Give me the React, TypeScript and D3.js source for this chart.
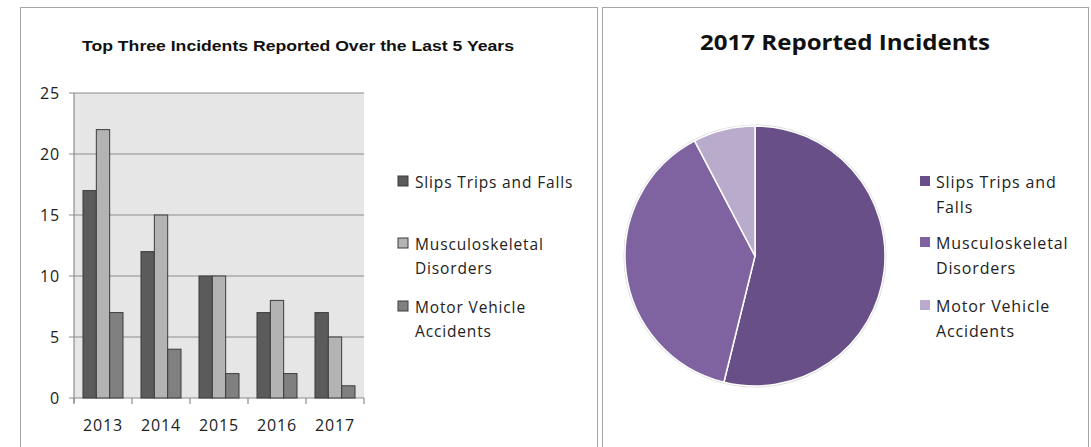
import React from 'react'
import * as d3 from 'd3'

const years = ['2013', '2014', '2015', '2016', '2017']
const seriesNames = ['Slips Trips and Falls', 'Musculoskeletal Disorders', 'Motor Vehicle Accidents']
const slips = [17, 12, 10, 7, 7]
const musculo = [22, 15, 10, 8, 5]
const motor = [7, 4, 2, 2, 1]
const yTicks = [0, 5, 10, 15, 20, 25]
const pieLabels = ['Slips Trips and Falls', 'Musculoskeletal Disorders', 'Motor Vehicle Accidents']
const pieValues = [7, 5, 1]

const barColors = ['#5b5b5b', '#b3b3b3', '#808080']
const pieColors = ['#684f88', '#7f62a0', '#b8abcb']

const legendLinesLeft = [['Slips Trips and Falls'], ['Musculoskeletal', 'Disorders'], ['Motor Vehicle', 'Accidents']]
const legendLinesRight = [['Slips Trips and', 'Falls'], ['Musculoskeletal', 'Disorders'], ['Motor Vehicle', 'Accidents']]

const font = "'Open Sans', sans-serif"

const BarChart = () => {
  const left = 74, right = 364, top = 93, bottom = 398
  const x0 = d3.scaleBand().domain(years).range([left, right]).paddingInner(0.31).paddingOuter(0.155)
  const x1 = d3.scaleBand().domain(seriesNames).range([0, x0.bandwidth()])
  const y = d3.scaleLinear().domain([0, 25]).range([bottom, top])
  const rows = years.map((yr, i) => ({ yr, vals: [slips[i], musculo[i], motor[i]] }))
  const step = x0.step()

  return (
    <g>
      <rect x={20.5} y={7.5} width={577} height={460} fill='#fff' stroke='#a6a6a6' />
      <text x={298} y={51} textAnchor='middle' fontFamily="'Liberation Sans Narrow', 'Liberation Sans', sans-serif"
        fontWeight='bold' fontSize={15} textLength={432} lengthAdjust='spacingAndGlyphs' fill='#111'>
        Top Three Incidents Reported Over the Last 5 Years
      </text>
      <rect x={left} y={top} width={right - left} height={bottom - top} fill='#e6e6e6' />
      {yTicks.map(t => (
        <g key={t}>
          <line x1={left - 5} x2={right} y1={y(t)} y2={y(t)} stroke='#8c8c8c' strokeWidth={1.2} />
          <text x={60} y={y(t) + 6} textAnchor='end' fontFamily={font} fontSize={16} letterSpacing={0.8} fill='#222'>{t}</text>
        </g>
      ))}
      <line x1={left} x2={left} y1={top} y2={bottom + 5} stroke='#8c8c8c' strokeWidth={1.2} />
      {d3.range(years.length + 1).map(i => (
        <line key={i} x1={left + i * step} x2={left + i * step} y1={bottom} y2={bottom + 6} stroke='#8c8c8c' strokeWidth={1.2} />
      ))}
      {rows.map(r => (
        <g key={r.yr} transform={`translate(${x0(r.yr)},0)`}>
          {r.vals.map((v, j) => (
            <rect key={j} x={x1(seriesNames[j])} y={y(v)} width={x1.bandwidth()} height={bottom - y(v)}
              fill={barColors[j]} stroke='#3c3c3c' strokeWidth={1} />
          ))}
          <text x={x0.bandwidth() / 2} y={431} textAnchor='middle' fontFamily={font} fontSize={16} letterSpacing={0.8} fill='#222'>{r.yr}</text>
        </g>
      ))}
      {legendLinesLeft.map((lines, i) => {
        const ly = [187, 249, 312][i]
        return (
          <g key={i}>
            <rect x={398} y={ly - 11} width={10} height={10} fill={barColors[i]} stroke='#3c3c3c' />
            {lines.map((ln, k) => (
              <text key={k} x={415} y={ly + 1 + k * 24} fontFamily={font} fontSize={15.5} letterSpacing={0.85} fill='#222'>{ln}</text>
            ))}
          </g>
        )
      })}
    </g>
  )
}

const PieChart = () => {
  const cx = 755, cy = 256, r = 130
  const pie = d3.pie<number>().sort(null)(pieValues)
  const arc = d3.arc<d3.PieArcDatum<number>>().innerRadius(0).outerRadius(r)
  return (
    <g>
      <rect x={602.5} y={7.5} width={486} height={460} fill='#fff' stroke='#a6a6a6' />
      <text x={845} y={50} textAnchor='middle' fontFamily={font} fontWeight='bold' fontSize={22}
        textLength={290} lengthAdjust='spacingAndGlyphs' fill='#111'>2017 Reported Incidents</text>
      <g transform={`translate(${cx},${cy})`}>
        <circle r={r + 1.5} fill='#d9d9d9' />
        {pie.map((d, i) => (
          <path key={i} d={arc(d) || ''} fill={pieColors[i]} stroke='#fff' strokeWidth={1.5} />
        ))}
      </g>
      {legendLinesRight.map((lines, i) => {
        const ly = [187, 248, 311][i]
        return (
          <g key={i}>
            <rect x={920} y={ly - 11} width={10} height={10} fill={pieColors[i]} />
            {lines.map((ln, k) => (
              <text key={k} x={936} y={ly + 1 + k * 25} fontFamily={font} fontSize={16} letterSpacing={0.85} fill='#222'>{ln}</text>
            ))}
          </g>
        )
      })}
      <title>{pieLabels.join(', ')}</title>
    </g>
  )
}

export default function App() {
  return (
    <svg width={1091} height={447} style={{ position: 'absolute', left: 0, top: 0, background: '#fff' }}>
      <rect width={1091} height={447} fill='#fff' />
      <BarChart />
      <PieChart />
    </svg>
  )
}
